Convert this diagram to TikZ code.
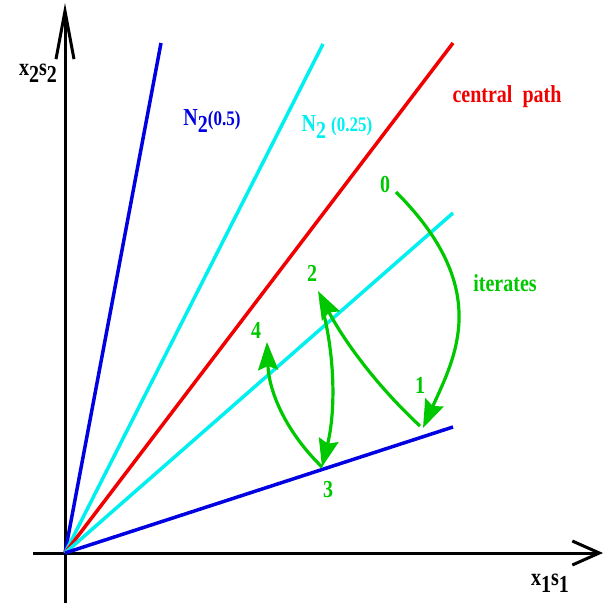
\documentclass[tikz,border=0pt]{standalone}
\usepackage{fontspec}
\setmainfont{Liberation Serif}
\usepackage{xcolor}
\usetikzlibrary{arrows.meta}

\definecolor{nblue}{RGB}{0,0,225}
\definecolor{ncyan}{RGB}{0,240,240}
\definecolor{cred}{RGB}{240,0,0}
\definecolor{itgreen}{RGB}{0,200,0}

\newcommand{\lowsub}[1]{\raisebox{-0.3em}{#1}}
\newcommand{\tall}[1]{\scalebox{1}[1.22]{#1}}

\begin{document}
\begin{tikzpicture}[
  x=1pt, y=1pt,
  font=\fontsize{20}{22}\selectfont\bfseries,
  axis/.style={line width=3pt},
  ray/.style={line width=3.5pt},
  iter/.style={line width=3.2pt, itgreen,
               -{Stealth[length=28pt, width=20pt, inset=4pt]}},
  lbl/.style={inner sep=0pt, itgreen}
]
  \useasboundingbox (0,0) rectangle (605,603);

  % --- axes ---------------------------------------------------------
  \coordinate (o) at (65,50);
  \coordinate (xl) at (33,50);
  \coordinate (xr) at (603,50);
  \coordinate (yb) at (65,0);
  \coordinate (yt) at (65,600);
  \draw[axis, -{Straight Barb[length=27pt, width=24pt, line width=3pt]}] (xl) -- (xr);
  \draw[axis, -{Straight Barb[length=48pt, width=18pt, line width=3pt]}] (yb) -- (yt);
  \node (xlab) at (550,20) {\tall{x\lowsub{1}s\lowsub{1}}};
  \node (ylab) at (38,530) {\tall{x\lowsub{2}s\lowsub{2}}};

  % --- rays through the origin --------------------------------------
  \coordinate (nbig) at (161,560);
  \coordinate (nsmall) at (323,559);
  \coordinate (cpath) at (453,560);
  \coordinate (nsmallr) at (453,390);
  \coordinate (nbigr) at (453,176);
  \draw[ray, nblue] (o) -- (nbig);
  \draw[ray, ncyan] (o) -- (nsmall);
  \draw[ray, cred] (o) -- (cpath);
  \draw[ray, ncyan] (o) -- (nsmallr);
  \draw[ray, nblue] (o) -- (nbigr);

  \node[nblue] (lbig) at (212,482) {\tall{N\lowsub{2}{\fontsize{17}{20}\selectfont(0.5)}}};
  \node[ncyan] (lsmall) at (337,476) {\tall{N\lowsub{2} {\fontsize{17}{20}\selectfont(0.25)}}};
  \node[cred] (lcp) at (507,506) {\tall{central\ \ path}};

  % --- iterates -----------------------------------------------------
  \coordinate (p0) at (396,411);
  \coordinate (p1) at (423,175);
  \coordinate (q1) at (420,177);
  \coordinate (p2) at (318,312);
  \coordinate (q2) at (321,300);
  \coordinate (p3) at (322,136);
  \coordinate (p4) at (267,261);

  \draw[iter] (p0) .. controls (493,314) and (455,246) .. (p1);
  \draw[iter] (q1) .. controls (379,215) and (345,260) .. (p2);
  \draw[iter] (q2) .. controls (335,250) and (336,193) .. (p3);
  \draw[iter] (p3) .. controls (287,170) and (269,210) .. (p4);

  \node[lbl] (l0) at (385,418) {\tall{0}};
  \node[lbl] (l1) at (420,218) {\tall{1}};
  \node[lbl] (l2) at (312,330) {\tall{2}};
  \node[lbl] (l3) at (328,113) {\tall{3}};
  \node[lbl] (l4) at (256,273) {\tall{4}};
  \node[lbl] (lit) at (505,320) {\tall{iterates}};
\end{tikzpicture}
\end{document}
